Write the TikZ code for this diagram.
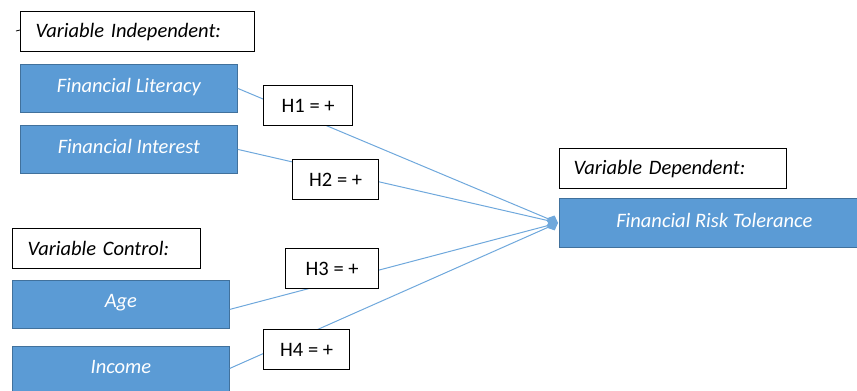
\documentclass[tikz,border=0pt]{standalone}
\usepackage{fontspec}
\setmainfont{Carlito}
\usetikzlibrary{arrows.meta}
\definecolor{boxblue}{HTML}{5B9BD5}
\definecolor{boxedge}{HTML}{41719C}
\definecolor{linkblue}{HTML}{6FA8DC}
\begin{document}
\begin{tikzpicture}[x=1pt,y=-1pt,
  bluebox/.style={draw=boxedge,line width=0.8pt,fill=boxblue,text=white,anchor=north west,inner sep=0pt,font=\fontsize{20.5}{23}\selectfont\itshape},
  labelbox/.style={draw=black,line width=1.3pt,fill=white,anchor=north west,inner sep=0pt,font=\fontsize{20.5}{23}\selectfont\itshape,align=left,text width=#1,minimum width=#1},
  hbox/.style={draw=black,line width=1.3pt,fill=white,anchor=north west,inner sep=0pt,font=\fontsize{20.5}{23}\selectfont},
  link/.style={draw=linkblue,line width=1pt},
  linkend/.style={link,-{Diamond[length=12pt,width=11pt,fill=linkblue]}}
]
\useasboundingbox (0,0) rectangle (857,391);
% label boxes
\node[labelbox=234pt,minimum height=40pt] (vi) at (20,11) {\hspace*{15pt}Variable Independent:};
\node[labelbox=188pt,minimum height=40pt] (vc) at (12,228) {\hspace*{15pt}Variable Control:};
\node[labelbox=227pt,minimum height=40pt] (vd) at (559,148) {\hspace*{14pt}Variable Dependent:};
% blue boxes
\node[bluebox,minimum width=217pt,minimum height=48pt] (lit) at (20,64) {Financial Literacy\rule[-6pt]{0pt}{1pt}};
\node[bluebox,minimum width=217pt,minimum height=48pt] (int) at (20,125) {Financial Interest\rule[-6pt]{0pt}{1pt}};
\node[bluebox,minimum width=217pt,minimum height=48pt] (age) at (12,280) {Age\rule[-6pt]{0pt}{1pt}};
\node[bluebox,minimum width=217pt,minimum height=48pt] (inc) at (12,346) {Income\rule[-6pt]{0pt}{1pt}};
\node[bluebox,minimum width=298pt,minimum height=49pt] (frt) at (559,198) {\hspace*{12pt}Financial Risk Tolerance\rule[-6pt]{0pt}{1pt}};
% small tick
\coordinate (t1) at (16,31);
\coordinate (t2) at (20,30);
\draw[black,line width=0.8pt] (t1) -- (t2);
% connectors
\coordinate (tip) at ([xshift=-1pt]frt.west);
\draw[linkend] (lit.east) -- (tip);
\draw[linkend] (int.east) -- (tip);
\draw[linkend] ([yshift=-5pt]age.east) -- (tip);
\draw[linkend] ([yshift=2pt]inc.east) -- (tip);
% hypothesis boxes
\node[hbox,minimum width=89pt,minimum height=40pt] (h1) at (263,85) {H1 = +};
\node[hbox,minimum width=86pt,minimum height=40pt] (h2) at (292,159) {H2 = +};
\node[hbox,minimum width=93pt,minimum height=40pt] (h3) at (285,248) {H3 = +};
\node[hbox,minimum width=86pt,minimum height=40pt] (h4) at (263,329) {H4 = +};
\end{tikzpicture}
\end{document}
